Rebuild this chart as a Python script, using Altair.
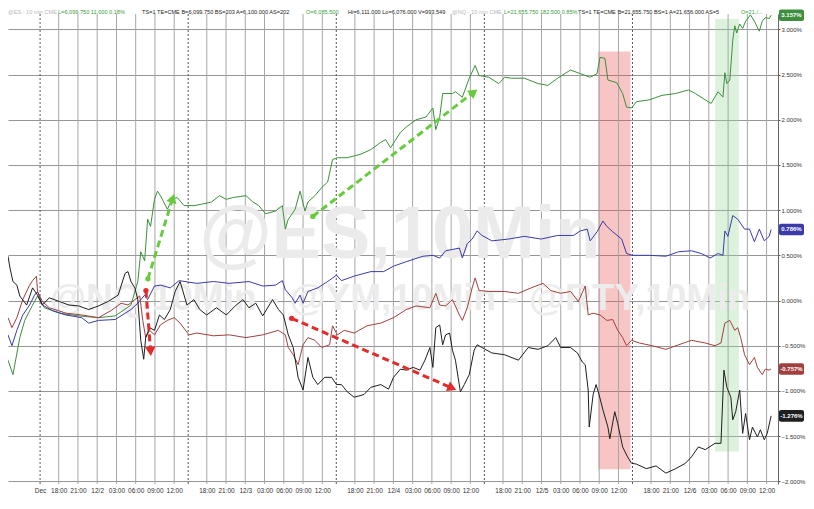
import json
import math
import altair as alt
import pandas as pd

# ---------------- data (x = trading hours from left edge, y = % change) -------------
green = [(0.0,-0.66),(0.77,-0.82),(1.84,-0.41),(2.61,-0.22),(3.83,-0.05),(4.60,0.05),(5.67,-0.08),
         (7.97,-0.14),(11.03,-0.17),(14.10,-0.19),(16.71,-0.17),(19.16,-0.05),(20.23,0.21),(20.69,0.54),
         (21.30,0.44),(21.76,0.90),(22.22,0.82),(22.83,1.12),(23.30,1.21),(23.76,1.16),(24.83,1.01),
         (25.60,1.12),(26.36,1.14),(27.43,1.05),(28.97,1.05),(30.50,1.07),(31.72,1.09),(32.95,1.16),
         (34.02,1.12),(35.10,1.14),(37.09,1.16),(38.16,1.09),(39.08,1.05),(40.15,0.96),(41.69,0.99),
         (42.76,1.05),(43.22,0.79),(43.68,0.90),(44.29,0.96),(44.75,1.01),(45.52,1.21),(46.28,0.99),
         (46.75,1.09),(47.82,1.16),(48.89,1.25),(49.81,1.31),(50.58,1.56),(51.34,1.58),(52.87,1.58),
         (53.95,1.60),(55.02,1.62),(56.55,1.67),(58.09,1.75),(58.85,1.78),(59.62,1.69),(61.15,1.86),
         (62.07,1.92),(63.60,2.00),(65.14,2.03),(66.21,2.13),(66.67,1.89),(67.28,2.03),(67.74,2.29),
         (69.28,2.29),(69.73,2.31),(70.81,2.25),(71.88,2.46),(72.80,2.60),(73.41,2.49),(74.94,2.47),
         (76.48,2.40),(77.40,2.47),(78.47,2.46),(80.46,2.46),(82.61,2.40),(84.14,2.38),(85.67,2.46),
         (87.66,2.55),(89.19,2.51),(90.73,2.47),(91.80,2.51),(92.26,2.69),(93.03,2.68),(93.49,2.44),
         (94.87,2.41),(95.79,2.29),(96.40,2.14),(97.17,2.13),(97.93,2.20),(99.93,2.22),(101.92,2.27),
         (104.06,2.29),(106.05,2.33),(107.13,2.29),(108.66,2.22),(109.58,2.18),(110.65,2.31),(111.42,2.25),
         (111.72,2.52),(112.03,2.40),(112.49,2.44),(112.95,2.88),(113.26,3.04),(113.57,2.96),(114.03,3.06),
         (114.49,3.01),(114.95,3.09),(115.71,3.16),(116.32,3.09),(117.09,2.98),(117.55,3.09),(118.01,3.13),
         (118.63,3.12),(118.93,3.157)]

blue = [(0.0,-0.38),(0.61,-0.50),(1.38,-0.33),(2.30,-0.16),(3.37,-0.05),(4.14,0.06),(4.60,0.10),(5.36,-0.05),
        (6.90,-0.11),(9.04,-0.16),(11.49,-0.19),(12.57,-0.25),(14.10,-0.22),(16.71,-0.21),(19.16,-0.10),
        (20.23,-0.03),(21.30,0.06),(21.76,0.01),(22.83,0.16),(23.76,0.17),(25.29,0.14),(26.67,0.22),
        (29.43,0.19),(32.03,0.21),(34.48,0.19),(37.55,0.21),(39.69,0.16),(41.69,0.17),(42.76,0.22),
        (43.22,0.12),(44.29,0.03),(44.75,-0.03),(45.52,0.06),(45.98,-0.03),(46.75,0.10),(48.28,0.14),
        (49.81,0.21),(51.19,0.28),(51.96,0.22),(53.95,0.27),(56.55,0.32),(58.55,0.32),(60.08,0.38),
        (62.07,0.43),(64.68,0.49),(66.21,0.50),(67.28,0.47),(68.20,0.55),(70.35,0.58),(70.81,0.47),
        (71.57,0.63),(72.34,0.68),(73.11,0.77),(73.87,0.72),(75.40,0.66),(78.01,0.68),(80.46,0.71),
        (83.07,0.68),(85.67,0.72),(88.13,0.72),(89.19,0.77),(90.27,0.79),(90.73,0.66),(91.80,0.76),
        (92.72,0.88),(93.33,0.82),(94.25,0.76),(95.63,0.68),(96.40,0.52),(97.32,0.50),(99.93,0.50),
        (102.53,0.49),(104.52,0.54),(106.51,0.55),(108.05,0.52),(109.43,0.47),(110.65,0.52),(111.42,0.50),
        (111.72,0.77),(112.19,0.71),(112.95,0.94),(113.72,0.90),(114.79,0.79),(115.56,0.79),(116.32,0.65),
        (117.09,0.79),(117.86,0.66),(118.63,0.71),(118.93,0.786)]

red = [(0.0,-0.19),(0.61,-0.30),(1.38,-0.19),(2.30,0.01),(3.37,0.17),(3.83,0.22),(4.44,0.27),(4.60,0.10),
       (5.36,-0.01),(6.44,-0.08),(9.04,-0.14),(11.49,-0.16),(14.10,-0.19),(16.09,-0.11),(17.62,-0.03),
       (18.70,-0.05),(19.77,0.01),(20.54,0.05),(21.00,-0.22),(21.46,-0.41),(22.07,-0.33),(22.83,-0.38),
       (23.76,-0.27),(24.83,-0.22),(25.90,-0.19),(26.82,-0.25),(28.20,-0.38),(29.43,-0.36),(32.03,-0.39),
       (34.48,-0.38),(37.09,-0.41),(39.69,-0.38),(42.15,-0.33),(43.22,-0.38),(43.68,-0.52),(44.45,-0.60),
       (45.21,-0.71),(45.98,-0.49),(46.75,-0.41),(47.82,-0.44),(48.89,-0.52),(50.12,-0.49),(50.58,-0.28),
       (51.34,-0.38),(52.41,-0.33),(53.95,-0.36),(55.94,-0.28),(58.09,-0.25),(60.08,-0.19),(62.07,-0.10),
       (63.60,-0.06),(65.75,-0.08),(66.67,0.08),(67.28,-0.05),(68.20,-0.06),(69.27,0.01),(70.35,-0.16),
       (70.81,-0.22),(71.57,-0.08),(72.34,0.14),(72.80,0.25),(73.41,0.11),(74.94,0.10),(77.40,0.10),
       (79.54,0.08),(81.53,0.14),(83.37,0.19),(84.60,0.11),(86.13,0.08),(87.66,0.10),(88.89,-0.01),
       (89.96,0.16),(90.42,-0.16),(91.19,-0.14),(92.26,-0.16),(93.33,-0.22),(94.25,-0.21),(95.02,-0.33),
       (95.79,-0.41),(96.40,-0.50),(97.17,-0.44),(98.39,-0.47),(100.39,-0.50),(102.53,-0.54),(104.52,-0.49),
       (106.51,-0.44),(108.66,-0.47),(110.19,-0.50),(111.11,-0.47),(111.72,-0.25),(112.49,-0.22),
       (113.26,-0.33),(113.72,-0.30),(114.18,-0.41),(114.79,-0.60),(115.56,-0.71),(116.32,-0.63),
       (116.79,-0.74),(117.55,-0.82),(118.01,-0.76),(118.63,-0.77),(118.93,-0.757)]

black = [(0.0,0.49),(0.31,0.36),(0.77,0.21),(1.38,0.17),(1.84,0.05),(2.91,-0.05),(3.83,0.14),(4.60,0.06),
         (5.36,-0.05),(6.44,0.03),(7.97,-0.01),(9.50,-0.05),(11.03,-0.06),(12.57,-0.10),(14.10,-0.06),
         (15.63,-0.01),(17.17,0.06),(18.24,0.30),(18.70,0.32),(19.16,0.21),(19.77,0.14),(20.23,0.01),
         (20.69,-0.44),(21.15,-0.65),(21.46,-0.41),(22.07,-0.30),(22.83,-0.33),(23.60,-0.16),(24.37,-0.21),
         (25.29,-0.10),(26.05,0.10),(26.82,0.21),(27.89,-0.05),(28.97,0.01),(29.89,-0.10),(30.96,-0.16),
         (32.49,-0.08),(34.02,-0.16),(35.56,-0.05),(36.63,0.01),(37.55,-0.08),(38.62,-0.03),(39.69,-0.17),
         (41.23,0.01),(42.15,-0.10),(42.91,-0.16),(43.68,-0.38),(44.45,-0.52),(45.21,-0.85),(45.98,-0.99),
         (46.75,-0.63),(47.51,-0.85),(48.28,-0.93),(49.35,-0.85),(50.42,-0.85),(51.19,-0.93),(51.96,-0.93),
         (52.87,-1.01),(53.95,-1.07),(55.48,-1.04),(56.55,-0.96),(58.09,-0.93),(59.31,-0.98),(60.08,-0.85),
         (61.15,-0.76),(62.07,-0.77),(63.14,-0.74),(64.21,-0.77),(64.98,-0.66),(65.75,-0.52),(66.21,-0.74),
         (66.67,-0.30),(67.28,-0.27),(67.74,-0.49),(68.20,-0.38),(68.82,-0.36),(69.27,-0.55),(69.73,-0.66),
         (70.50,-1.01),(71.11,-0.93),(71.88,-0.82),(72.65,-0.55),(73.11,-0.49),(73.87,-0.52),(75.40,-0.58),
         (77.40,-0.60),(79.54,-0.66),(81.07,-0.52),(82.61,-0.54),(84.14,-0.50),(85.37,-0.41),(86.13,-0.52),
         (87.66,-0.52),(88.74,-0.58),(89.50,-0.68),(89.96,-0.71),(90.42,-0.99),(90.58,-1.40),(91.19,-1.04),
         (91.65,-0.93),(92.11,-1.04),(92.72,-1.21),(93.49,-1.40),(93.79,-1.53),(94.56,-1.23),(95.02,-1.36),
         (95.79,-1.62),(96.55,-1.73),(97.17,-1.80),(97.93,-1.81),(99.47,-1.86),(101.00,-1.83),(102.53,-1.91),
         (104.06,-1.86),(105.59,-1.80),(106.51,-1.73),(107.59,-1.62),(108.66,-1.65),(110.19,-1.58),
         (111.11,-1.58),(111.57,-0.77),(112.03,-0.96),(112.65,-1.07),(112.95,-1.32),(113.41,-1.23),
         (114.03,-0.99),(114.49,-1.47),(114.95,-1.25),(115.56,-1.54),(116.02,-1.40),(116.79,-1.51),
         (117.25,-1.43),(117.86,-1.54),(118.32,-1.47),(118.93,-1.276)]

series_names = ["green", "blue", "red", "black"]
series_colors = ["#3d8f3d", "#3a3aa8", "#a23f3f", "#1e1e1e"]

# last-value badges
badge_values = [3.157, 0.786, -0.757, -1.276]
badge_text = ["3.157%", "0.786%", "-0.757%", "-1.276%"]
badge_colors = ["#3d8f3d", "#3a3aa8", "#a23f3f", "#1e1e1e"]

# time axis: session 18:00 positions (hours), tick offsets and labels
session_starts = [7.9, 30.98, 54.06, 77.14, 100.22]
tick_offsets = [0, 3, 6, 9, 12, 15, 18]
time_labels = ["18:00", "21:00", "DATE", "03:00", "06:00", "09:00", "12:00"]
date_labels = ["12/2", "12/3", "12/4", "12/5", "12/6"]
month_tick = 5.0
month_label = "Dec"
session_breaks = [5.0, 28.08, 51.16, 74.24, 97.32]

y_ticks = [-2.0, -1.5, -1.0, -0.5, 0.0, 0.5, 1.0, 1.5, 2.0, 2.5, 3.0]

# highlighted zones (x0, x1, y_top, y_bottom)
zones = [(91.95, 97.0, 2.755, -1.867, "#e84a4a", 0.32),
         (110.2, 113.9, 3.116, -1.67, "#9ed99a", 0.35)]

# annotation arrows (x0, y0) -> (x1, y1)
arrows = [(21.8, 0.24, 25.6, 1.115, "#66cc3c"),
          (47.5, 0.93, 72.4, 2.295, "#66cc3c"),
          (21.5, 0.11, 22.2, -0.546, "#e22b2b"),
          (44.2, -0.197, 69.0, -0.962, "#e22b2b")]

# header quote line: (text, pixel offset from left, colour)
header_parts = [("@ES - 10 min CME", 0, "#b8b8b8"),
                ("L=6,099.750 11.000 0.18%", 50, "#3d9a3d"),
                ("TS=1 TE=CME B=6,099.750 BS=203 A=6,100.000 AS=202", 134, "#222222"),
                ("O=6,085.500", 298, "#3d9a3d"),
                ("Hi=6,111.000 Lo=6,076.000 V=993,549", 340, "#222222"),
                ("@NQ - 10 min CME", 444, "#b8b8b8"),
                ("L=21,655.750 182.500 0.85%", 496, "#3d9a3d"),
                ("TS=1 TE=CME B=21,655.750 BS=1 A=21,656.000 AS=5", 570, "#222222"),
                ("O=21,/...", 733, "#3d9a3d")]

# ---------------- layout ----------------
W, H = 770, 470
X_DOMAIN = [0, 120]
Y_DOMAIN = [-2.03, 3.17]
FONT = "Liberation Sans"

xs = alt.Scale(domain=X_DOMAIN, nice=False, zero=False)
ys = alt.Scale(domain=Y_DOMAIN, nice=False, zero=False)

# ticks
tick_vals, tick_labs = [month_tick], [month_label]
for s, d in zip(session_starts, date_labels):
    for off, lab in zip(tick_offsets, time_labels):
        tick_vals.append(round(s + off, 2))
        tick_labs.append(d if lab == "DATE" else lab)
keys = [int(round(v * 100)) for v in tick_vals]
label_expr = f"{json.dumps(tick_labs)}[indexof({json.dumps(keys)}, round(datum.value*100))]"

x_axis = alt.Axis(values=tick_vals, labelExpr=label_expr, grid=False, ticks=False, domain=False,
                  labelFontSize=6.5, labelFont=FONT, labelColor="#333", labelPadding=3, title=None,
                  labelOverlap=False, labelFlush=False)
y_axis = alt.Axis(orient="right", values=y_ticks, labelExpr="format(datum.value, '.3f') + '%'",
                  grid=True, gridColor="#969696", gridWidth=1, tickSize=2, tickColor="#555",
                  domain=True, domainColor="#666", labelFontSize=6, labelFont=FONT, labelColor="#333",
                  labelPadding=1, title=None)


def X(f="h"):
    return alt.X(f"{f}:Q", scale=xs, axis=x_axis)


def Y(f="v"):
    return alt.Y(f"{f}:Q", scale=ys, axis=y_axis)


lines_df = pd.concat([
    pd.DataFrame({"h": [p[0] for p in pts], "v": [p[1] for p in pts], "s": name})
    for name, pts in zip(series_names, [green, blue, red, black])
], ignore_index=True)

grid_df = pd.DataFrame({"h": tick_vals[1:]})
break_df = pd.DataFrame({"h": session_breaks})
zone_df = pd.DataFrame([{"h": z[0], "x1": z[1], "v": z[2], "yb": z[3], "c": z[4], "o": z[5]} for z in zones])

sx = W / (X_DOMAIN[1] - X_DOMAIN[0])
sy = H / (Y_DOMAIN[1] - Y_DOMAIN[0])
arrow_rows, head_rows, start_rows = [], [], []
for i, (x0, y0, x1, y1, c) in enumerate(arrows):
    arrow_rows += [{"id": i, "h": x0, "v": y0, "c": c}, {"id": i, "h": x1, "v": y1, "c": c}]
    ang = math.degrees(math.atan2((x1 - x0) * sx, (y1 - y0) * sy)) % 360
    head_rows.append({"h": x1, "v": y1, "c": c, "a": ang})
    start_rows.append({"h": x0, "v": y0, "c": c})
arrow_df = pd.DataFrame(arrow_rows)
head_df = pd.DataFrame(head_rows)
start_df = pd.DataFrame(start_rows)

badge_df = pd.DataFrame({"v": badge_values, "t": badge_text, "c": badge_colors})
badge_df["y2"] = badge_df["v"] - 0.064
badge_df["y1"] = badge_df["v"] + 0.064

hdr_df = pd.DataFrame({"t": [p[0] for p in header_parts],
                       "h": [p[1] / sx for p in header_parts],
                       "c": [p[2] for p in header_parts]})

zones_layer = alt.Chart(zone_df).mark_rect().encode(
    x=X("h"), x2="x1", y=Y("v"), y2="yb",
    color=alt.Color("c:N", scale=None), opacity=alt.Opacity("o:Q", scale=None))

grid_layer = alt.Chart(grid_df).mark_rule(color="#a6a6a6", strokeWidth=1).encode(x=X())
break_layer = alt.Chart(break_df).mark_rule(color="#555555", strokeWidth=1, strokeDash=[2, 2]).encode(x=X())

wm1 = alt.Chart(pd.DataFrame({"t": ["@ES,10Min"]})).mark_text(
    font=FONT, fontSize=74, fontWeight="bold", color="#ebebeb", align="center", baseline="alphabetic"
).encode(text="t:N", x=alt.value(392), y=alt.value(244))
wm2 = alt.Chart(pd.DataFrame({"t": ["@NQ,10Min - @YM,10Min - @RTY,10Min"]})).mark_text(
    font=FONT, fontSize=37, fontWeight="bold", color="#ececec", align="center", baseline="alphabetic"
).encode(text="t:N", x=alt.value(392), y=alt.value(296))

lines_layer = alt.Chart(lines_df).mark_line(strokeWidth=1, clip=True).encode(
    x=X(), y=Y(),
    color=alt.Color("s:N", scale=alt.Scale(domain=series_names, range=series_colors), legend=None),
    detail="s:N")

arrow_layer = alt.Chart(arrow_df).mark_line(strokeWidth=3, strokeDash=[7, 4]).encode(
    x=X(), y=Y(), detail="id:N", color=alt.Color("c:N", scale=None))
head_layer = alt.Chart(head_df).mark_point(shape="triangle", filled=True, size=110, opacity=1).encode(
    x=X(), y=Y(), angle=alt.Angle("a:Q", scale=None), color=alt.Color("c:N", scale=None))
start_layer = alt.Chart(start_df).mark_circle(size=28, opacity=1).encode(
    x=X(), y=Y(), color=alt.Color("c:N", scale=None))

badge_rect = alt.Chart(badge_df).mark_rect(cornerRadius=2).encode(
    x=alt.value(W + 1), x2=alt.value(W + 26), y=Y("y1"), y2="y2", color=alt.Color("c:N", scale=None))
badge_txt = alt.Chart(badge_df).mark_text(
    font=FONT, fontSize=6, fontWeight="bold", color="white", align="center", baseline="middle"
).encode(x=alt.value(W + 13.5), y=Y(), text="t:N")

header = alt.Chart(hdr_df).mark_text(
    font=FONT, fontSize=5.6, align="left", baseline="middle"
).encode(x=X(), y=alt.value(-2), text="t:N", color=alt.Color("c:N", scale=None))

chart = alt.layer(
    zones_layer, grid_layer, break_layer, wm1, wm2, lines_layer,
    arrow_layer, start_layer, head_layer, badge_rect, badge_txt, header
).properties(
    width=W, height=H,
    autosize=alt.AutoSizeParams(type="none"),
    padding={"left": 0, "top": 6, "right": 28, "bottom": 12},
    background="white"
).configure_view(stroke=None)

chart.save("out.html", embed_options={"renderer": "svg", "actions": False})
